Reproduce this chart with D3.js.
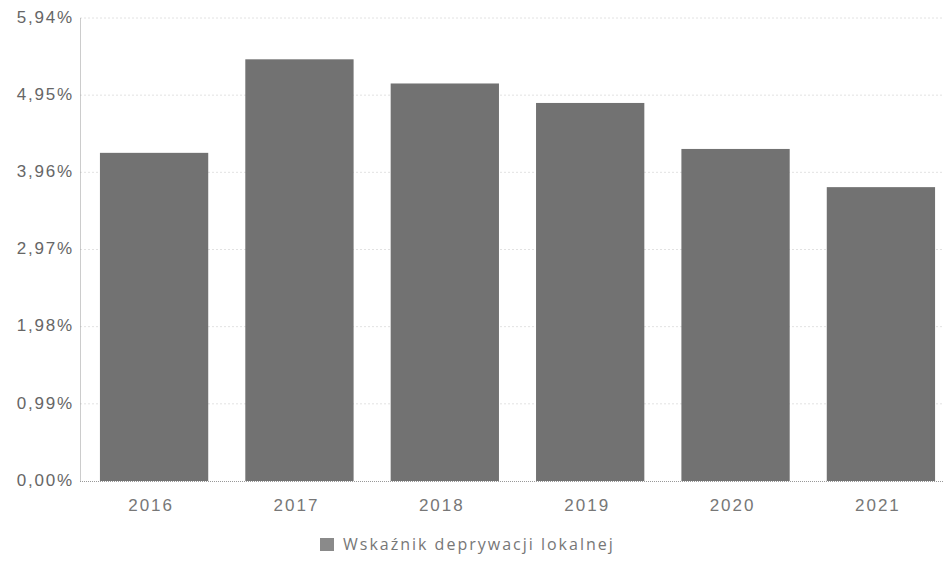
<!DOCTYPE html>
<html>
<head>
<meta charset="utf-8">
<script src="https://cdn.jsdelivr.net/npm/d3@7"></script>
<style>
  html, body { margin: 0; padding: 0; background: #fff; }
  svg { display: block; font-family: "Open Sans", "DejaVu Sans", sans-serif; }
</style>
</head>
<body>
<svg id="chart" width="943" height="564"></svg>
<script>
const years = ["2016", "2017", "2018", "2019", "2020", "2021"];
const values = [4.21, 5.41, 5.10, 4.85, 4.26, 3.77];
const yTicks = [0, 0.99, 1.98, 2.97, 3.96, 4.95, 5.94];
const seriesName = "Wskaźnik deprywacji lokalnej";

const svg = d3.select("#chart");
const x = d3.scaleBand().domain(years).range([81.4, 953.6]).paddingInner(0.255).paddingOuter(0.1275);
const y = d3.scaleLinear().domain([0, 5.94]).range([481, 18]);
const fmt = v => v.toFixed(2).replace(".", ",") + "%";

// grid
svg.append("g").selectAll("line").data(yTicks.filter(d => d > 0)).join("line")
  .attr("x1", 80).attr("x2", 943)
  .attr("y1", d => y(d)).attr("y2", d => y(d))
  .attr("stroke", "#e2e2e2").attr("stroke-width", 1).attr("stroke-dasharray", "2,2");

// y axis
const yAxis = svg.append("g").attr("transform", "translate(80,0)")
  .call(d3.axisLeft(y).tickValues(yTicks).tickFormat(fmt).tickSize(0).tickPadding(6));
yAxis.select(".domain").attr("stroke", "#999").attr("stroke-dasharray", "1,1");
yAxis.selectAll("text").attr("fill", "#666").style("font-size", "17px")
  .style("letter-spacing", "1.8px").attr("dy", "0.25em");

// bars
svg.append("g").selectAll("rect").data(years).join("rect")
  .attr("x", d => x(d)).attr("width", x.bandwidth())
  .attr("y", (d, i) => y(values[i]))
  .attr("height", (d, i) => y(0) - y(values[i]))
  .attr("fill", "#727272");

// x axis
const xAxis = svg.append("g").attr("transform", "translate(0,481)")
  .call(d3.axisBottom(x).tickSize(0).tickPadding(18));
xAxis.select(".domain").attr("stroke", "#999").attr("stroke-dasharray", "1,1")
  .attr("d", "M80,0.5H943");
xAxis.selectAll("text").attr("fill", "#777").style("font-size", "17px")
  .style("letter-spacing", "2px").attr("dx", "-3");

// legend
const lg = svg.append("g").attr("transform", "translate(320,538)");
lg.append("rect").attr("width", 14).attr("height", 13).attr("fill", "#8a8a8a");
lg.append("text").attr("x", 23).attr("y", 12).text(seriesName)
  .attr("fill", "#777").style("font-size", "16px").style("letter-spacing", "2px");
</script>
</body>
</html>
